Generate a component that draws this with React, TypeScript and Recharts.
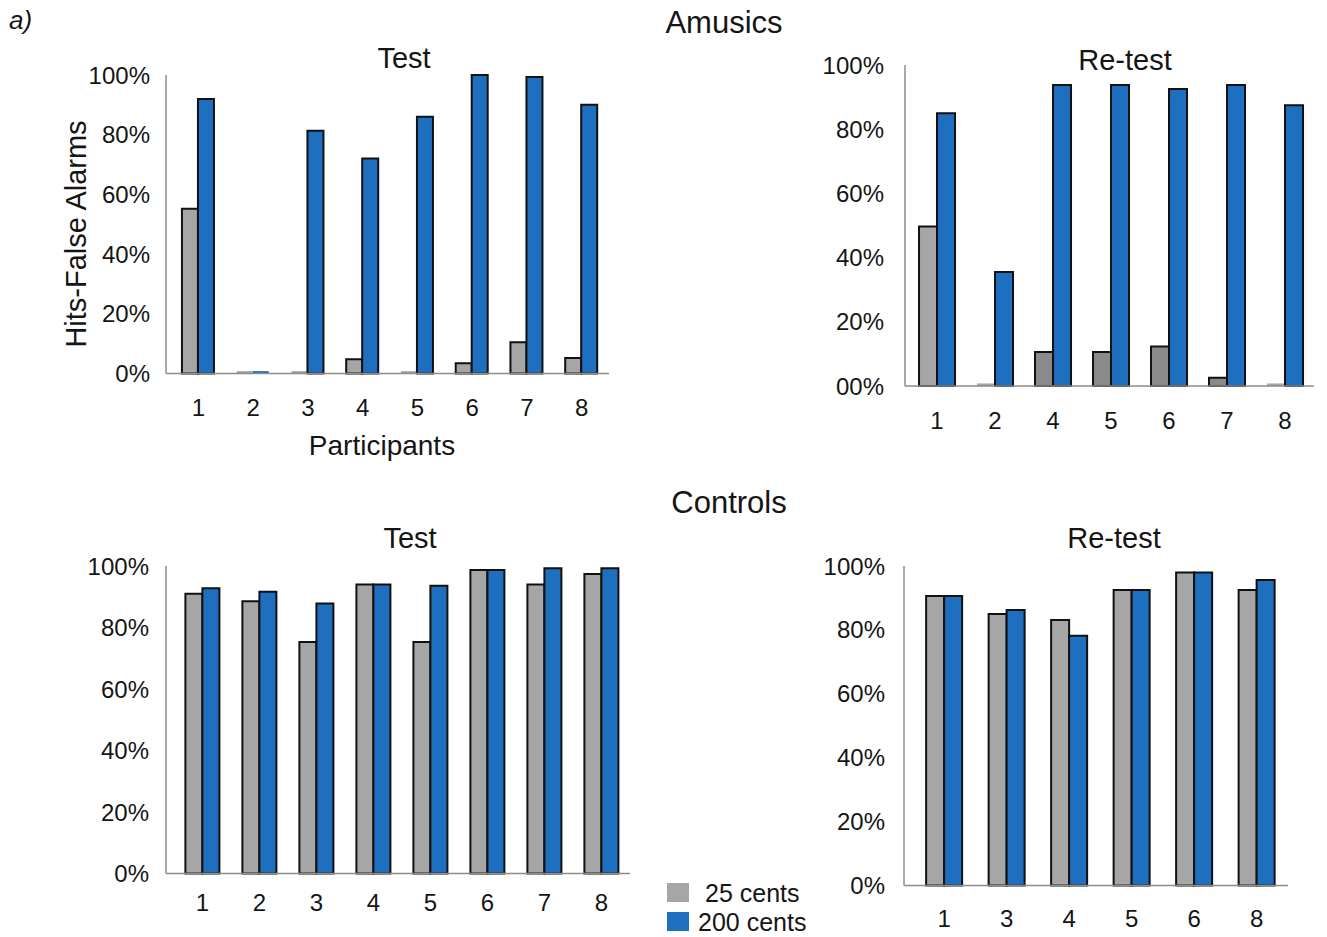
import React from 'react'
import { BarChart, Bar, XAxis, YAxis, Cell } from 'recharts'

// participants shown in each panel
const amusicsTestIds = ['1', '2', '3', '4', '5', '6', '7', '8']
const amusicsRetestIds = ['1', '2', '4', '5', '6', '7', '8']
const controlsTestIds = ['1', '2', '3', '4', '5', '6', '7', '8']
const controlsRetestIds = ['1', '3', '4', '5', '6', '8']

// Hits - False Alarms (%), 25 cents vs 200 cents
const amusicsTest25 = [55.2, 0.8, 0.8, 4.8, 0.8, 3.4, 10.5, 5.2]
const amusicsTest200 = [92, 0.8, 81.3, 72, 86, 100, 99.3, 90]
const amusicsRetest25 = [49.7, 0.8, 10.6, 10.6, 12.3, 2.6, 0.8]
const amusicsRetest200 = [85, 35.5, 93.8, 93.8, 92.5, 93.8, 87.5]
const controlsTest25 = [91, 88.5, 75.3, 94, 75.3, 98.7, 94, 97.4]
const controlsTest200 = [92.8, 91.6, 87.8, 94, 93.6, 98.7, 99.3, 99.3]
const controlsRetest25 = [90.6, 85, 83.1, 92.5, 98, 92.5]
const controlsRetest200 = [90.6, 86.2, 78.2, 92.5, 98, 95.6]

// 25-cent bars drawn in a darker grey in the amusics re-test panel
const amusicsRetestDarkIds = ['4', '5', '6', '7']

const yTicks = [0, 20, 40, 60, 80, 100]

const FONT = '"Liberation Sans", Arial, Helvetica, sans-serif'
const TEXT = '#151515'
const GREY = '#a6a6a6'
const DARK_GREY = '#8a8a8a'
const BLUE = '#1e6fbf'
const AXIS = '#8c8c8c'

interface Box {
  left: number
  right: number
  top: number
  bottom: number
  padLeft: number
  catGap: string
  yTickGap: number
  xTickGap: number
}

interface PanelProps {
  ids: string[]
  low: number[]
  high: number[]
  box: Box
  zeroLabel?: string
  darkIds?: string[]
}

const Panel: React.FC<PanelProps> = ({ ids, low, high, box, zeroLabel = '0%', darkIds = [] }) => {
  const data = ids.map((id, i) => ({ id, low: low[i], high: high[i] }))
  const yw = 100
  const mt = 20
  const xh = 64
  const width = box.right - box.left + yw + 10
  const height = box.bottom - box.top + mt + xh
  return (
    <div style={{ position: 'absolute', left: box.left - yw, top: box.top - mt }}>
      <BarChart
        width={width}
        height={height}
        data={data}
        margin={{ top: mt, right: 10, left: 0, bottom: 0 }}
        barGap={0}
        barCategoryGap={box.catGap}
      >
        <XAxis
          dataKey="id"
          interval={0}
          tickLine={false}
          tickSize={0}
          height={xh}
          tickMargin={box.xTickGap}
          padding={{ left: box.padLeft, right: 0 }}
          axisLine={{ stroke: AXIS, strokeWidth: 1.5 }}
          tick={{ fill: TEXT, fontSize: 24, fontFamily: FONT }}
        />
        <YAxis
          type="number"
          domain={[0, 100]}
          ticks={yTicks}
          width={yw}
          tickLine={false}
          tickSize={0}
          tickMargin={box.yTickGap}
          tickFormatter={(v: number) => (v === 0 ? zeroLabel : `${v}%`)}
          axisLine={{ stroke: AXIS, strokeWidth: 1.5 }}
          tick={{ fill: TEXT, fontSize: 24, fontFamily: FONT }}
        />
        <Bar dataKey="low" fill={GREY} stroke="#111" strokeWidth={2} isAnimationActive={false}>
          {data.map((d) => (
            <Cell
              key={`l-${d.id}`}
              fill={darkIds.includes(d.id) ? DARK_GREY : GREY}
              stroke={d.low < 1 ? 'none' : '#111'}
            />
          ))}
        </Bar>
        <Bar dataKey="high" fill={BLUE} stroke="#111" strokeWidth={2} isAnimationActive={false}>
          {data.map((d) => (
            <Cell key={`h-${d.id}`} fill={BLUE} stroke={d.high < 1 ? 'none' : '#111'} />
          ))}
        </Bar>
      </BarChart>
    </div>
  )
}

const App: React.FC = () => {
  return (
    <div
      style={{
        position: 'absolute',
        left: 0,
        top: 0,
        width: 1327,
        height: 937,
        background: '#fff',
        fontFamily: FONT
      }}
    >
      <Panel
        ids={amusicsTestIds}
        low={amusicsTest25}
        high={amusicsTest200}
        box={{ left: 166, right: 609, top: 75, bottom: 373.5, padLeft: 5, catGap: '20%', yTickGap: 16, xTickGap: 25 }}
      />
      <Panel
        ids={amusicsRetestIds}
        low={amusicsRetest25}
        high={amusicsRetest200}
        darkIds={amusicsRetestDarkIds}
        zeroLabel="00%"
        box={{ left: 905, right: 1314, top: 64.5, bottom: 385.5, padLeft: 3, catGap: '19%', yTickGap: 21, xTickGap: 26 }}
      />
      <Panel
        ids={controlsTestIds}
        low={controlsTest25}
        high={controlsTest200}
        box={{ left: 166, right: 630, top: 566, bottom: 873.5, padLeft: 8, catGap: '20%', yTickGap: 17, xTickGap: 20 }}
      />
      <Panel
        ids={controlsRetestIds}
        low={controlsRetest25}
        high={controlsRetest200}
        box={{ left: 904, right: 1288, top: 566, bottom: 885.5, padLeft: 9, catGap: '21%', yTickGap: 19, xTickGap: 24 }}
      />

      <svg
        width={1327}
        height={937}
        style={{ position: 'absolute', left: 0, top: 0, pointerEvents: 'none' }}
        fontFamily={FONT}
        fill={TEXT}
      >
        <text x={9} y={29} fontSize={26} fontStyle="italic">a)</text>
        <text x={724} y={33} fontSize={31} textAnchor="middle">Amusics</text>
        <text x={404} y={68} fontSize={29} textAnchor="middle">Test</text>
        <text x={1125} y={70} fontSize={29} textAnchor="middle">Re-test</text>
        <text x={382} y={455} fontSize={28} textAnchor="middle">Participants</text>
        <text x={86} y={234} fontSize={29} textAnchor="middle" transform="rotate(-90 86 234)">
          Hits-False Alarms
        </text>
        <text x={729} y={513} fontSize={31} textAnchor="middle">Controls</text>
        <text x={410} y={548} fontSize={29} textAnchor="middle">Test</text>
        <text x={1114} y={548} fontSize={29} textAnchor="middle">Re-test</text>

        <rect x={667} y={883} width={22} height={19} fill={GREY} />
        <text x={705} y={902} fontSize={25}>25 cents</text>
        <rect x={667} y={912} width={22} height={19} fill={BLUE} />
        <text x={698} y={931} fontSize={25}>200 cents</text>
      </svg>
    </div>
  )
}

export default App
